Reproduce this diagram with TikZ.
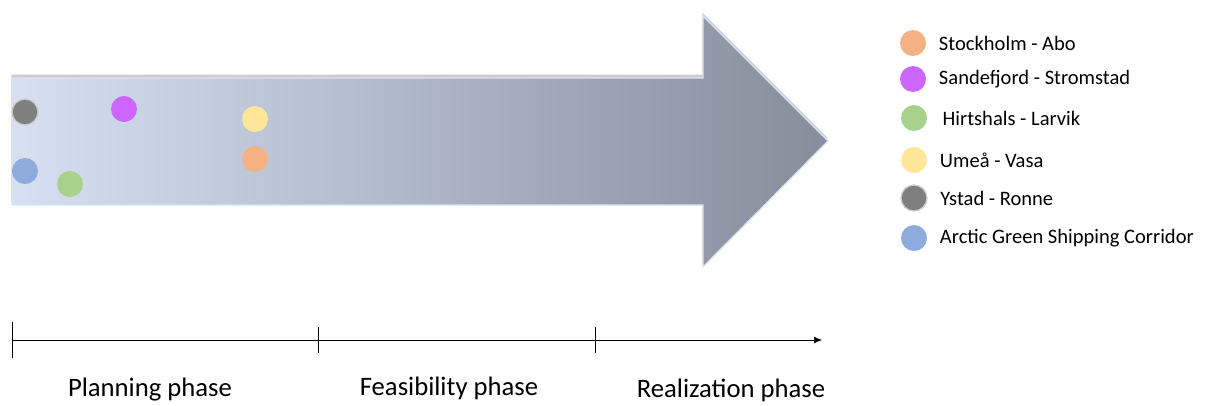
\documentclass[tikz,border=0pt]{standalone}
\usepackage{fontspec}
\setmainfont{Carlito}
\usetikzlibrary{shadows}
\usetikzlibrary{arrows.meta}
\usetikzlibrary{positioning}

\definecolor{laranja}{HTML}{F4B183}
\definecolor{roxo}{HTML}{CC66FF}
\definecolor{verde}{HTML}{A9D18E}
\definecolor{amarelo}{HTML}{FFE699}
\definecolor{cinza}{HTML}{7F7F7F}
\definecolor{azul}{HTML}{8FAADC}
\definecolor{setaclara}{HTML}{D6E0F2}
\definecolor{setaescura}{HTML}{868D9B}
\definecolor{borda}{HTML}{DAE3F3}

\tikzset{
    ponto/.style = {circle, inner sep = 0pt, minimum size = 19.5pt},
    legenda/.style = {right = 6pt of #1, font = \fontsize{15.4}{18}\selectfont},
    fase/.style = {font = \fontsize{20}{24}\selectfont}
}

\begin{document}
\begin{tikzpicture}[>=Stealth, x = 0.75pt, y = -0.75pt]

    \useasboundingbox (0,0) rectangle (1206,405);

    % seta grande
    \path[drop shadow = {shadow xshift = -0.5pt, shadow yshift = 2.5pt, opacity = 0.4},
          draw = borda, line width = 1pt, left color = setaclara, right color = setaescura]
        (12,78) -- (703,78) -- (703,16) -- (828,141) -- (703,267) -- (703,205) -- (12,205) -- cycle;

    \node[ponto, fill = cinza, draw = gray!40, line width = 1pt] (ystad) at (25,112) {};
    \node[ponto, fill = azul] (arctic) at (25,171) {};
    \node[ponto, fill = verde] (hirts) at (70,184) {};
    \node[ponto, fill = roxo] (sande) at (124,109) {};
    \node[ponto, fill = amarelo] (umea) at (255,119) {};
    \node[ponto, fill = laranja] (stock) at (255,159) {};

    % legenda
    \node[ponto, fill = laranja] (l1) at (913,43) {};
    \node[ponto, fill = roxo] (l2) at (913,79) {};
    \node[ponto, fill = verde] (l3) at (914,118) {};
    \node[ponto, fill = amarelo] (l4) at (914,160) {};
    \node[ponto, fill = cinza, draw = gray!40, line width = 1pt] (l5) at (914,198) {};
    \node[ponto, fill = azul] (l6) at (914,238) {};

    \node[legenda = l1] (t1) {Stockholm - Abo};
    \node[legenda = l2] (t2) {Sandefjord - Stromstad};
    \node[legenda = l3, xshift = 2pt] (t3) {Hirtshals - Larvik};
    \node[legenda = l4] (t4) {Umeå - Vasa};
    \node[legenda = l5] (t5) {Ystad - Ronne};
    \node[legenda = l6] (t6) {Arctic Green Shipping Corridor};

    % linha do tempo
    \coordinate (inicio) at (12,340);
    \coordinate (m1) at (318,340);
    \coordinate (m2) at (595,340);
    \coordinate (fim) at (822,340);

    \draw[-{Latex[length = 6pt, width = 5pt]}] (inicio) -- (fim);
    \draw ([yshift = 13.5pt] inicio) -- ([yshift = -13.5pt] inicio);
    \draw ([yshift = 9.75pt] m1) -- ([yshift = -9.75pt] m1);
    \draw ([yshift = 9.75pt] m2) -- ([yshift = -9.75pt] m2);

    \node[fase] (plan) at (150,390) {Planning phase};
    \node[fase] (feas) at (449,388) {Feasibility phase};
    \node[fase] (real) at (731,390) {Realization phase};

\end{tikzpicture}
\end{document}
